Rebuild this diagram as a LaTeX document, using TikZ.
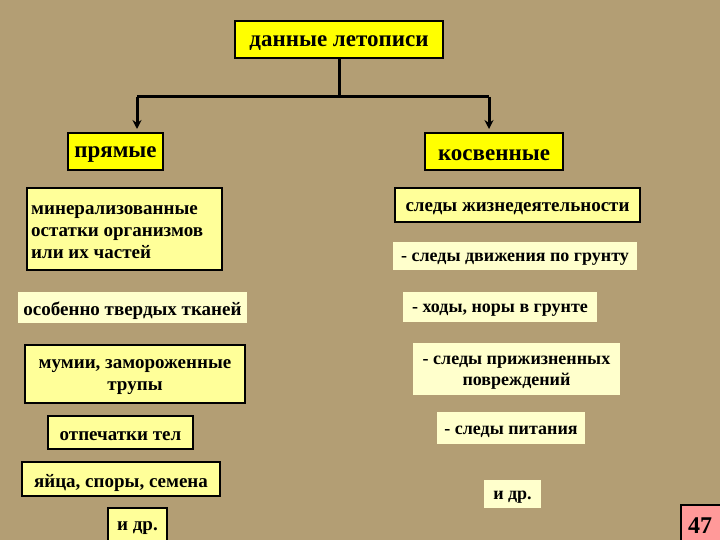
\documentclass[tikz,border=0pt]{standalone}
\usepackage{fontspec}
\setmainfont{Liberation Serif}
\usetikzlibrary{arrows.meta}
\definecolor{bg}{HTML}{B39E74}
\definecolor{yel}{HTML}{FFFF00}
\definecolor{lyel}{HTML}{FFFF99}
\definecolor{cream}{HTML}{FFFFCC}
\definecolor{pinkk}{HTML}{FF9999}
\tikzset{
 base/.style={inner sep=0pt, font=\bfseries\fontsize{19}{22}\selectfont, align=center, text=black},
 rtxt/.style={base, font=\bfseries\fontsize{18}{21}\selectfont},
 ytxt/.style={base, font=\bfseries\fontsize{23}{25}\selectfont},
 ybox/.style={inner sep=0pt, fill=yel, draw=black, line width=2pt},
 lbox/.style={inner sep=0pt, fill=lyel, draw=black, line width=2pt},
 cbox/.style={inner sep=0pt, fill=cream},
 conn/.style={line width=3pt, draw=black},
 arr/.style={conn, -{Stealth[length=9pt,width=9pt]}}
}
% #1 box style, #2..#5 x1 y1 x2 y2, #6 text style, #7 name, #8 text
\newcommand{\bx}[8]{\node[#1, minimum width=#4-#2, minimum height=#5-#3] (#7) at ({(#2+#4)/2},{(#3+#5)/2}) {};
 \node[#6] (#7t) at ({(#2+#4)/2},{(#3+#5)/2+3.5}) {#8};}
\begin{document}
\begin{tikzpicture}[x=1pt,y=-1pt]
\fill[bg] (0,0) rectangle (720,540);
\useasboundingbox (0,0) rectangle (720,540);
\bx{ybox}{235}{21}{443}{58}{ytxt}{top}{данные летописи}
\bx{ybox}{68}{133}{163}{170}{ytxt}{pr}{прямые}
\bx{ybox}{425}{133}{563}{170}{ytxt}{ks}{косвенные}
\node[lbox, minimum width=195, minimum height=82] (min) at (124.5,229) {};
\node[base, align=left, anchor=west] (mint) at (31,232.5) {минерализованные\\остатки организмов\\или их частей};
\bx{cbox}{18}{292}{247}{323}{base}{os}{особенно твердых тканей}
\bx{lbox}{25}{345}{245}{403}{base}{mu}{мумии, замороженные\\трупы}
\bx{lbox}{48}{416}{193}{449}{base}{ot}{отпечатки тел}
\bx{lbox}{22}{462}{220}{496}{base}{ya}{яйца, споры, семена}
\bx{lbox}{108}{508}{167}{542}{base}{idl}{и др.}
\bx{lbox}{395}{188}{640}{222}{base}{sz}{следы жизнедеятельности}
\bx{cbox}{393}{242}{637}{270}{rtxt}{sd}{- следы движения по грунту}
\bx{cbox}{403}{292}{597}{322}{rtxt}{hn}{- ходы, норы в грунте}
\bx{cbox}{413}{343}{620}{395}{rtxt}{sp}{- следы прижизненных\\повреждений}
\bx{cbox}{437}{412}{585}{444}{rtxt}{spit}{- следы питания}
\bx{cbox}{484}{480}{541}{508}{rtxt}{idr}{и др.}
\node[inner sep=0pt, fill=pinkk, draw=black, line width=1.5pt, minimum width=40, minimum height=36] (num) at (701,523) {};
\node[base, font=\bfseries\fontsize{24}{26}\selectfont] (numt) at (700,526) {47};
\coordinate (j) at (339,97);
\coordinate (jl) at (137,97);
\coordinate (jr) at (489,97);
\coordinate (al) at (137,129);
\coordinate (ar) at (489,129);
\draw[conn] (top.south) -- (j);
\draw[conn] (jl) -- (jr);
\draw[arr] (jl) -- (al);
\draw[arr] (jr) -- (ar);
\end{tikzpicture}
\end{document}
